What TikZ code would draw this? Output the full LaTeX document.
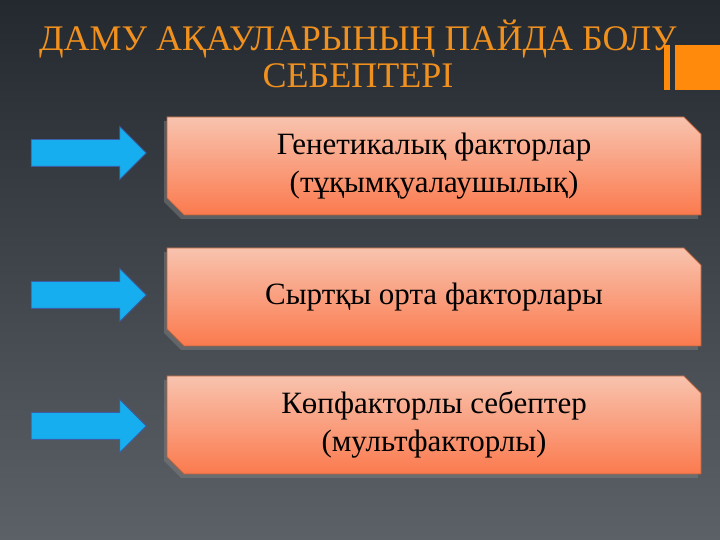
\documentclass[tikz,border=0pt]{standalone}
\usepackage{fontspec}
\setmainfont{Liberation Serif}
\usetikzlibrary{shapes.arrows,shapes.misc,shadows}
\definecolor{bgtop}{HTML}{23292E}
\definecolor{bgbot}{HTML}{5C6168}
\definecolor{titleor}{HTML}{F0901E}
\definecolor{decoor}{HTML}{FF8A0C}
\definecolor{arrfill}{HTML}{16AEEE}
\definecolor{arrdraw}{HTML}{3A5FA6}
\definecolor{boxtop}{HTML}{F8C3AE}
\definecolor{boxbot}{HTML}{FB7A4E}
\definecolor{boxdraw}{HTML}{B8633E}
\tikzstyle{cause}=[chamfered rectangle,chamfered rectangle corners={north east,south west},
  chamfered rectangle xsep=14pt,minimum width=534pt,minimum height=98pt,inner sep=0pt,
  draw=boxdraw,thick,top color=boxtop,bottom color=boxbot,align=center,
  font=\fontsize{31}{38}\selectfont,
  drop shadow={shadow xshift=-3pt,shadow yshift=-4pt,opacity=0.5}]
\tikzstyle{pointer}=[single arrow,single arrow head extend=13pt,single arrow head indent=0pt,
  minimum height=115pt,inner xsep=0pt,inner ysep=13pt,fill=arrfill,draw=arrdraw,thick]
\begin{document}
\begin{tikzpicture}[x=1pt,y=1pt]
  \shade[top color=bgtop,bottom color=bgbot] (0,0) rectangle (720,540);
  \useasboundingbox (0,0) rectangle (720,540);
  % title
  \node[text=titleor,align=center,font=\fontsize{36}{37}\selectfont] (title) at (358,486)
    {ДАМУ АҚАУЛАРЫНЫҢ ПАЙДА БОЛУ\\СЕБЕПТЕРІ};
  \fill[decoor] (664,450) rectangle (670,495);
  \fill[decoor] (675,450) rectangle (720,495);
  % causes
  \node[cause] (gen) at (434,374) {Генетикалық факторлар\\(тұқымқуалаушылық)};
  \node[cause] (env) at (434,243) {Сыртқы орта факторлары};
  \node[cause] (multi) at (434,115) {Көпфакторлы себептер\\(мультфакторлы)};
  % arrows
  \node[pointer] (a1) at (82,387) {};
  \node[pointer] (a2) at (82,245) {};
  \node[pointer] (a3) at (82,114) {};
\end{tikzpicture}
\end{document}
